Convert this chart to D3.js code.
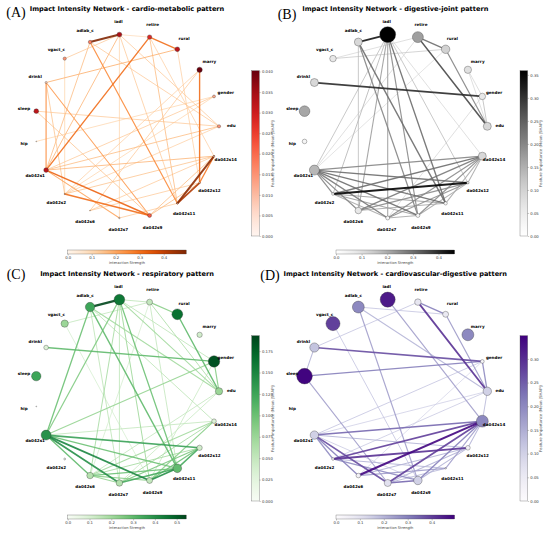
<!DOCTYPE html>
<html><head><meta charset="utf-8">
<script src="https://cdn.jsdelivr.net/npm/d3@7"></script>
<style>body{margin:0;background:#fff} svg text{font-family:"DejaVu Sans",sans-serif}</style>
</head><body><svg id="c" width="550" height="533"></svg>
<script>
// ---------------- DATA ----------------
const nodeNames = ["edu","gender","marry","rural","retire","iadl","adlab_c","vgact_c","drinkl","sleep","hip",
  "da042s1","da042s2","da042s6","da042s7","da042s9","da042s11","da042s12","da042s14"];
const panelLetters = ["(A)","(B)","(C)","(D)"];
const titles = [
  "Impact Intensity Network - cardio-metabolic pattern",
  "Impact Intensity Network - digestive-joint pattern",
  "Impact Intensity Network - respiratory pattern",
  "Impact Intensity Network - cardiovascular-digestive pattern"];
// node importance (Mean |SHAP|), in nodeNames order
const importanceA = [0.015,0.012,0.040,0.032,0.028,0.034,0.018,0.015,0.006,0.032,0.001,0.032,0.002,0.001,0.003,0.022,0.002,0.003,0.004];
const importanceB = [0.09,0.06,0.075,0.10,0.17,0.359,0.09,0.06,0.09,0.16,0.03,0.14,0.01,0.06,0.022,0.022,0.016,0.008,0.09];
const importanceC = [0.075,0.185,0.04,0.165,0.05,0.16,0.125,0.075,0.03,0.125,0.001,0.14,0.005,0.06,0.06,0.05,0.105,0.04,0.03];
const importanceD = [0.10,0.02,0.20,0.05,0.06,0.32,0.20,0.28,0.12,0.345,0.0,0.10,0.01,0.03,0.07,0.10,0.003,0.03,0.20];
const nodeMax = [0.0402,0.359,0.193,0.349];
const edgeMax = [0.494,0.463,0.544,0.496];
const nodeTicksA = [0,0.005,0.01,0.015,0.02,0.025,0.03,0.035,0.04];
const nodeTicksB = [0,0.05,0.1,0.15,0.2,0.25,0.3,0.35];
const nodeTicksC = [0,0.025,0.05,0.075,0.1,0.125,0.15,0.175];
const nodeTicksD = [0,0.05,0.1,0.15,0.2,0.25,0.3];
const edgeTicksA = [0,0.1,0.2,0.3,0.4];
const edgeTicksB = [0,0.1,0.2,0.3,0.4];
const edgeTicksC = [0,0.1,0.2,0.3,0.4,0.5];
const edgeTicksD = [0,0.1,0.2,0.3,0.4];
// edges: [source, target, interaction strength]
const edgesA = [
 ["adlab_c","iadl",0.49],["da042s14","da042s11",0.47],["da042s12","da042s11",0.42],["retire","rural",0.30],
 ["retire","da042s1",0.30],["marry","da042s12",0.30],["da042s14","da042s12",0.28],["da042s1","da042s9",0.32],
 ["da042s2","da042s9",0.30],["drinkl","da042s1",0.24],["adlab_c","da042s11",0.25],["drinkl","da042s9",0.22],
 ["da042s1","da042s7",0.20],["rural","drinkl",0.18],["iadl","da042s1",0.17],["adlab_c","da042s1",0.16],
 ["iadl","da042s7",0.12],["iadl","vgact_c",0.14],["iadl","edu",0.14],["retire","da042s11",0.16],
 ["retire","da042s14",0.13],["marry","da042s6",0.14],["marry","da042s2",0.13],["gender","hip",0.12],
 ["gender","da042s1",0.14],["edu","sleep",0.14],["edu","da042s1",0.16],["edu","da042s2",0.13],
 ["da042s14","da042s1",0.17],["da042s14","da042s2",0.15],["da042s14","da042s6",0.14],["sleep","da042s9",0.15],
 ["drinkl","da042s2",0.15],["da042s6","da042s12",0.14],["da042s9","da042s12",0.16],["da042s9","da042s14",0.16],
 ["adlab_c","edu",0.14],["vgact_c","da042s2",0.12],["rural","da042s12",0.13],["iadl","da042s11",0.14],
 ["gender","da042s2",0.12],["da042s7","da042s11",0.14],["iadl","retire",0.11]];
const edgesB = [
 ["da042s2","da042s12",0.46],["adlab_c","iadl",0.43],["drinkl","gender",0.40],["retire","edu",0.36],
 ["retire","rural",0.30],["rural","edu",0.26],["marry","gender",0.13],["marry","edu",0.13],
 ["gender","edu",0.17],["vgact_c","rural",0.15],["vgact_c","retire",0.13],["da042s1","da042s14",0.26],
 ["da042s1","da042s12",0.30],["da042s1","da042s11",0.30],["da042s1","da042s9",0.30],["da042s1","da042s7",0.28],
 ["da042s1","da042s6",0.26],["da042s1","da042s2",0.26],["da042s14","da042s2",0.30],["da042s14","da042s6",0.28],
 ["da042s14","da042s7",0.25],["da042s14","da042s9",0.25],["da042s14","da042s11",0.20],["da042s14","da042s12",0.20],
 ["da042s12","da042s6",0.25],["da042s12","da042s7",0.24],["da042s12","da042s9",0.20],["da042s11","da042s2",0.22],
 ["da042s11","da042s6",0.20],["da042s9","da042s2",0.22],["da042s7","da042s2",0.20],["da042s9","da042s7",0.20],
 ["adlab_c","da042s11",0.30],["adlab_c","da042s9",0.26],["iadl","da042s9",0.25],["iadl","da042s11",0.30],
 ["iadl","da042s7",0.22],["iadl","da042s6",0.22],["iadl","da042s2",0.18],["iadl","da042s12",0.17],
 ["iadl","da042s1",0.17],["retire","da042s1",0.13],["rural","da042s1",0.12],["adlab_c","da042s6",0.17],
 ["iadl","da042s14",0.13],["gender","da042s7",0.13]];
const edgesC = [
 ["adlab_c","iadl",0.54],["da042s1","da042s9",0.42],["da042s1","da042s7",0.40],["da042s11","da042s9",0.40],
 ["da042s1","da042s12",0.36],["da042s11","da042s7",0.34],["da042s11","da042s12",0.34],["rural","edu",0.30],
 ["drinkl","gender",0.30],["da042s1","da042s6",0.30],["da042s1","da042s11",0.28],["adlab_c","da042s11",0.30],
 ["iadl","da042s11",0.28],["da042s11","da042s6",0.28],["da042s12","da042s9",0.28],["da042s12","da042s7",0.26],
 ["adlab_c","da042s1",0.28],["iadl","da042s1",0.25],["retire","rural",0.24],["gender","edu",0.24],
 ["gender","da042s1",0.22],["da042s14","da042s9",0.24],["da042s6","da042s9",0.24],["da042s6","da042s7",0.22],
 ["da042s14","da042s6",0.20],["da042s14","da042s7",0.19],["da042s12","da042s6",0.19],["iadl","da042s9",0.20],
 ["iadl","da042s6",0.19],["iadl","da042s7",0.16],["iadl","edu",0.20],["iadl","gender",0.16],
 ["adlab_c","edu",0.20],["adlab_c","da042s14",0.16],["adlab_c","da042s7",0.16],["retire","edu",0.18],
 ["retire","da042s11",0.15],["iadl","retire",0.16],["vgact_c","retire",0.15],["vgact_c","da042s9",0.12],
 ["edu","da042s6",0.15],["edu","da042s7",0.14],["retire","da042s6",0.12],["da042s14","da042s1",0.15],
 ["gender","da042s9",0.14]];
const edgesD = [
 ["da042s6","da042s14",0.49],["retire","edu",0.42],["da042s2","da042s12",0.42],["da042s2","da042s14",0.40],
 ["da042s7","da042s14",0.40],["drinkl","gender",0.38],["da042s1","da042s7",0.38],["da042s1","da042s14",0.34],
 ["da042s7","da042s9",0.34],["retire","rural",0.30],["sleep","gender",0.30],["gender","edu",0.28],
 ["da042s1","da042s6",0.30],["da042s1","da042s2",0.28],["da042s2","da042s9",0.28],["da042s9","da042s14",0.30],
 ["rural","edu",0.25],["adlab_c","da042s9",0.24],["iadl","da042s14",0.24],["sleep","da042s7",0.24],
 ["da042s11","da042s14",0.24],["da042s11","da042s6",0.24],["drinkl","sleep",0.20],["adlab_c","edu",0.20],
 ["da042s1","da042s12",0.20],["da042s12","da042s7",0.20],["da042s12","da042s6",0.20],["da042s12","da042s9",0.20],
 ["da042s11","da042s2",0.20],["da042s11","da042s7",0.19],["da042s14","da042s12",0.20],["edu","da042s14",0.19],
 ["drinkl","retire",0.17],["adlab_c","rural",0.17],["vgact_c","da042s9",0.17],["da042s1","gender",0.17],
 ["da042s1","edu",0.15],["da042s2","edu",0.16],["da042s6","gender",0.14],["da042s1","da042s9",0.16]];

// ---------------- DRAW ----------------
const svg = d3.select("#c");
const panels = [
 {imp:importanceA, edges:edgesA, nTicks:nodeTicksA, eTicks:edgeTicksA, nFmt:".3f", nC:d3.interpolateReds,   eC:d3.interpolateOranges, ox:0,   oy:0,   sh:0,    lx:16, ly:13.3},
 {imp:importanceB, edges:edgesB, nTicks:nodeTicksB, eTicks:edgeTicksB, nFmt:".2f", nC:d3.interpolateGreys,  eC:d3.interpolateGreys,   ox:275, oy:0,   sh:-6.7, lx:12, ly:15.3},
 {imp:importanceC, edges:edgesC, nTicks:nodeTicksC, eTicks:edgeTicksC, nFmt:".3f", nC:d3.interpolateGreens, eC:d3.interpolateGreens,  ox:0,   oy:265, sh:0,    lx:16, ly:10.5},
 {imp:importanceD, edges:edgesD, nTicks:nodeTicksD, eTicks:edgeTicksD, nFmt:".2f", nC:d3.interpolatePurples,eC:d3.interpolatePurples, ox:275, oy:265, sh:-6.7, lx:-5, ly:12}
];
const defs = svg.append("defs");
const angle = d3.scalePoint().domain(nodeNames).range([0, 2*Math.PI*(nodeNames.length-1)/nodeNames.length]);
const R = 92, CY = 126.3;

panels.forEach((p,k)=>{
  const g = svg.append("g").attr("transform",`translate(${p.ox},${p.oy})`);
  const cx = 127 + p.sh;
  const xs = d3.scaleLinear().domain([-1,1]).range([cx-R, cx+R]);
  const ys = d3.scaleLinear().domain([-1,1]).range([CY+R, CY-R]);
  const px = n => xs(Math.cos(angle(n))), py = n => ys(Math.sin(angle(n)));
  const lxp = n => xs(1.135*Math.cos(angle(n))), lyp = n => ys(1.135*Math.sin(angle(n)));
  const nCol = d3.scaleSequential(p.nC).domain([0,nodeMax[k]]);
  const eCol = d3.scaleSequential(p.eC).domain([0,edgeMax[k]]);
  const eW = d3.scaleLinear().domain([0,0.5]).range([0.3,2.1]);
  const rS = d3.scaleSqrt().domain([0,1]).range([0,13.3]);

  // title + letter
  g.append("text").attr("x",cx).attr("y",9.5).attr("text-anchor","middle").attr("dominant-baseline","middle")
    .style("font-weight","bold").style("font-size","6.6px").text(titles[k]);
  g.append("text").attr("x",p.lx).attr("y",p.ly).attr("text-anchor","middle").attr("dominant-baseline","middle")
    .style("font-family","'Liberation Serif',serif").style("font-size","14px").text(panelLetters[k]);

  // edges
  const es = p.edges.slice().sort((a,b)=>a[2]-b[2]);
  g.append("g").selectAll("line").data(es).join("line")
    .attr("x1",d=>px(d[0])).attr("y1",d=>py(d[0])).attr("x2",d=>px(d[1])).attr("y2",d=>py(d[1]))
    .attr("stroke",d=>eCol(d[2])).attr("stroke-width",d=>eW(d[2])).attr("stroke-opacity",0.9).attr("stroke-linecap","round");

  // nodes
  const nd = nodeNames.map((n,i)=>({n, v:p.imp[i]}));
  g.append("g").selectAll("circle").data(nd.filter(d=>d.v>0)).join("circle")
    .attr("cx",d=>px(d.n)).attr("cy",d=>py(d.n)).attr("r",d=>rS(d.v))
    .attr("fill",d=>nCol(d.v)).attr("stroke","#333").attr("stroke-width",0.35);
  g.append("g").selectAll("text").data(nd).join("text")
    .attr("x",d=>lxp(d.n)).attr("y",d=>lyp(d.n)).attr("text-anchor","middle").attr("dominant-baseline","middle")
    .style("font-weight","bold").style("font-size","4.1px").text(d=>d.n);

  // vertical colorbar (node importance)
  const vx = 251.7 + p.sh, vw = 7.6, vTop = 70.7, vBot = 236;
  const gidV = "gv"+k;
  const lgV = defs.append("linearGradient").attr("id",gidV).attr("x1",0).attr("y1",1).attr("x2",0).attr("y2",0);
  d3.range(0,1.0001,0.05).forEach(t=>lgV.append("stop").attr("offset",t).attr("stop-color",p.nC(t)));
  g.append("rect").attr("x",vx).attr("y",vTop).attr("width",vw).attr("height",vBot-vTop)
    .attr("fill",`url(#${gidV})`).attr("stroke","#444").attr("stroke-width",0.3);
  const vS = d3.scaleLinear().domain([0,nodeMax[k]]).range([vBot,vTop]);
  const va = g.append("g").attr("transform",`translate(${vx+vw},0)`)
    .call(d3.axisRight(vS).tickValues(p.nTicks).tickFormat(d3.format(p.nFmt)).tickSize(1.5).tickPadding(1.2));
  va.select(".domain").remove();
  va.selectAll("line").attr("stroke","#444").attr("stroke-width",0.3);
  va.selectAll("text").style("font-size","3.8px").attr("fill","#333").style("font-family","'DejaVu Sans',sans-serif");
  g.append("text").attr("transform",`translate(${vx+vw+13.8},${(vTop+vBot)/2}) rotate(-90)`)
    .attr("text-anchor","middle").attr("dominant-baseline","middle").style("font-size","3.9px").attr("fill","#555")
    .text("Feature Importance (Mean |SHAP|)");

  // horizontal colorbar (interaction strength)
  const hx0 = 67.7 + p.sh, hx1 = 186.3 + p.sh, hy = 250, hh = 4;
  const gidH = "gh"+k;
  const lgH = defs.append("linearGradient").attr("id",gidH).attr("x1",0).attr("y1",0).attr("x2",1).attr("y2",0);
  d3.range(0,1.0001,0.05).forEach(t=>lgH.append("stop").attr("offset",t).attr("stop-color",p.eC(t)));
  g.append("rect").attr("x",hx0).attr("y",hy).attr("width",hx1-hx0).attr("height",hh)
    .attr("fill",`url(#${gidH})`).attr("stroke","#444").attr("stroke-width",0.3);
  const hS = d3.scaleLinear().domain([0,edgeMax[k]]).range([hx0,hx1]);
  const ha = g.append("g").attr("transform",`translate(0,${hy+hh})`)
    .call(d3.axisBottom(hS).tickValues(p.eTicks).tickFormat(d3.format(".1f")).tickSize(1.5).tickPadding(1));
  ha.select(".domain").remove();
  ha.selectAll("line").attr("stroke","#444").attr("stroke-width",0.3);
  ha.selectAll("text").style("font-size","3.8px").attr("fill","#333").style("font-family","'DejaVu Sans',sans-serif");
  g.append("text").attr("x",(hx0+hx1)/2).attr("y",263.3).attr("text-anchor","middle").attr("dominant-baseline","middle")
    .style("font-size","3.6px").attr("fill","#444").text("Interaction Strength");
});
</script></body></html>
